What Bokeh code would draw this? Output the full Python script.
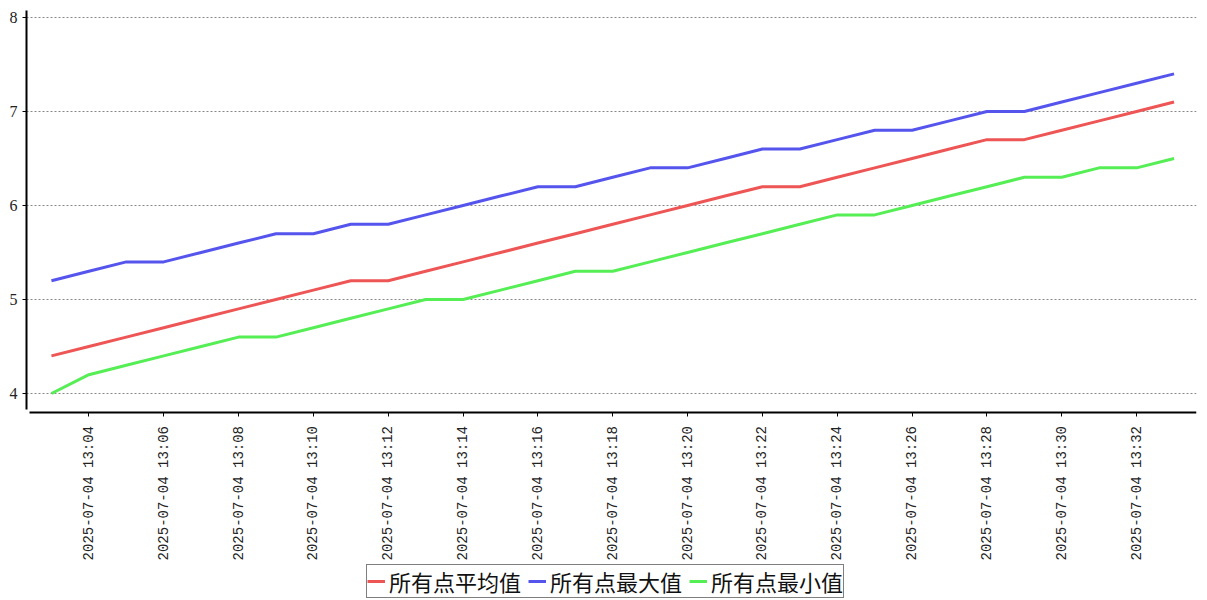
import math
from datetime import datetime, timedelta
from bokeh.plotting import figure
from bokeh.models import (ColumnDataSource, Range1d, FixedTicker,
                          DatetimeTickFormatter, Legend, LegendItem)
from bokeh.embed import file_html
from bokeh.resources import INLINE

times = [
    "2025-07-04 13:03", "2025-07-04 13:04", "2025-07-04 13:05", "2025-07-04 13:06",
    "2025-07-04 13:07", "2025-07-04 13:08", "2025-07-04 13:09", "2025-07-04 13:10",
    "2025-07-04 13:11", "2025-07-04 13:12", "2025-07-04 13:13", "2025-07-04 13:14",
    "2025-07-04 13:15", "2025-07-04 13:16", "2025-07-04 13:17", "2025-07-04 13:18",
    "2025-07-04 13:19", "2025-07-04 13:20", "2025-07-04 13:21", "2025-07-04 13:22",
    "2025-07-04 13:23", "2025-07-04 13:24", "2025-07-04 13:25", "2025-07-04 13:26",
    "2025-07-04 13:27", "2025-07-04 13:28", "2025-07-04 13:29", "2025-07-04 13:30",
    "2025-07-04 13:31", "2025-07-04 13:32", "2025-07-04 13:33",
]
avg_vals = [4.4, 4.5, 4.6, 4.7, 4.8, 4.9, 5.0, 5.1, 5.2, 5.2, 5.3, 5.4, 5.5, 5.6, 5.7, 5.8,
            5.9, 6.0, 6.1, 6.2, 6.2, 6.3, 6.4, 6.5, 6.6, 6.7, 6.7, 6.8, 6.9, 7.0, 7.1]
max_vals = [5.2, 5.3, 5.4, 5.4, 5.5, 5.6, 5.7, 5.7, 5.8, 5.8, 5.9, 6.0, 6.1, 6.2, 6.2, 6.3,
            6.4, 6.4, 6.5, 6.6, 6.6, 6.7, 6.8, 6.8, 6.9, 7.0, 7.0, 7.1, 7.2, 7.3, 7.4]
min_vals = [4.0, 4.2, 4.3, 4.4, 4.5, 4.6, 4.6, 4.7, 4.8, 4.9, 5.0, 5.0, 5.1, 5.2, 5.3, 5.3,
            5.4, 5.5, 5.6, 5.7, 5.8, 5.9, 5.9, 6.0, 6.1, 6.2, 6.3, 6.3, 6.4, 6.4, 6.5]
tick_times = [
    "2025-07-04 13:04", "2025-07-04 13:06", "2025-07-04 13:08", "2025-07-04 13:10",
    "2025-07-04 13:12", "2025-07-04 13:14", "2025-07-04 13:16", "2025-07-04 13:18",
    "2025-07-04 13:20", "2025-07-04 13:22", "2025-07-04 13:24", "2025-07-04 13:26",
    "2025-07-04 13:28", "2025-07-04 13:30", "2025-07-04 13:32",
]
y_ticks = [4, 5, 6, 7, 8]
series_names = ["所有点平均值", "所有点最大值", "所有点最小值"]
colors = ["#ee5555", "#5555ee", "#55ee55"]

FMT = "%Y-%m-%d %H:%M"
EPOCH = datetime(1970, 1, 1)


def parse(s):
    return datetime.strptime(s, FMT)


def to_ms(d):
    return (d - EPOCH).total_seconds() * 1000.0


xs = [parse(t) for t in times]
src = ColumnDataSource(dict(x=xs, avg=avg_vals, mx=max_vals, mn=min_vals))

# The frame reaches the bottom of the page so that the x axis (drawn at a
# fixed value) and the legend are both inside it.
Y_AXIS_AT = 3.803
x_start = xs[0] - timedelta(seconds=40)
x_end = xs[-1] + timedelta(seconds=36)

p = figure(
    x_axis_type="datetime",
    frame_width=1170, frame_height=590,
    output_backend="svg", toolbar_location=None,
    x_range=Range1d(x_start, x_end),
    y_range=Range1d(1.798, 8.074),
    min_border_left=26, min_border_right=10, min_border_top=10, min_border_bottom=0,
)
p.outline_line_color = None
p.background_fill_color = "white"
p.border_fill_color = "white"

r_avg = p.line("x", "avg", source=src, line_color=colors[0], line_width=3)
r_max = p.line("x", "mx", source=src, line_color=colors[1], line_width=3)
r_min = p.line("x", "mn", source=src, line_color=colors[2], line_width=3)

# axes
p.xaxis.fixed_location = Y_AXIS_AT
p.xaxis.bounds = (to_ms(x_start + timedelta(seconds=5)), to_ms(x_end))
p.xaxis.ticker = FixedTicker(ticks=[to_ms(parse(t)) for t in tick_times])
p.xaxis.formatter = DatetimeTickFormatter(
    milliseconds=FMT, seconds=FMT, minsec=FMT, minutes=FMT, hourmin=FMT,
    hours=FMT, days=FMT, months=FMT, years=FMT)
p.xaxis.major_label_orientation = math.pi / 2
p.xaxis.major_label_text_font = "Liberation Mono"
p.xaxis.major_label_text_font_size = "14px"
p.xaxis.major_label_text_color = "#222222"
p.xaxis.major_label_standoff = 10
p.yaxis.bounds = (3.835, 8.096)
p.yaxis.ticker = FixedTicker(ticks=y_ticks)
p.yaxis.major_label_text_font = "Liberation Serif"
p.yaxis.major_label_text_font_size = "16px"
p.yaxis.major_label_text_color = "#222222"
p.yaxis.major_label_standoff = 5

for ax in (p.xaxis, p.yaxis):
    ax.axis_line_color = "black"
    ax.axis_line_width = 2
    ax.major_tick_line_color = "black"
    ax.major_tick_line_width = 1
    ax.major_tick_out = 4
    ax.major_tick_in = 0
    ax.minor_tick_line_color = None

p.xgrid.grid_line_color = None
p.ygrid.grid_line_color = "#888888"
p.ygrid.grid_line_dash = "2 2"
p.ygrid.grid_line_width = 1

legend = Legend(
    items=[LegendItem(label=series_names[0], renderers=[r_avg]),
           LegendItem(label=series_names[1], renderers=[r_max]),
           LegendItem(label=series_names[2], renderers=[r_min])],
    orientation="horizontal", location=(340, 2),
    border_line_color="black", border_line_width=1,
    background_fill_color="white", background_fill_alpha=1,
    label_text_font="Noto Sans CJK SC", label_text_font_size="22px",
    label_text_line_height=1.0,
    label_text_color="#111111", label_text_baseline="middle",
    glyph_width=18, glyph_height=22, label_height=22,
    label_standoff=4, spacing=7, padding=0, margin=0,
)
p.add_layout(legend, "center")

open("out.html", "w").write(file_html(p, INLINE))
